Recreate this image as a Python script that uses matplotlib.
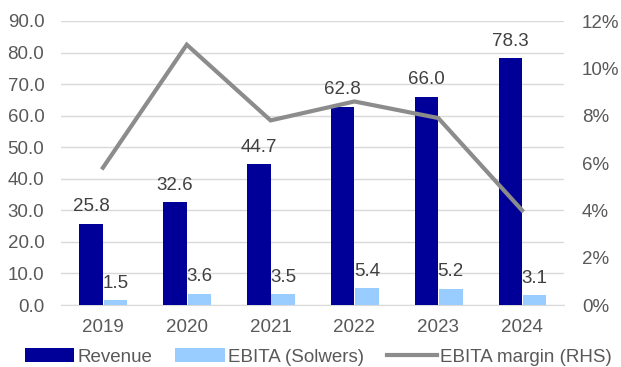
import numpy as np
import matplotlib
matplotlib.use("Agg")
import matplotlib.pyplot as plt
from matplotlib.ticker import FuncFormatter, MultipleLocator

plt.rcParams['font.family'] = ['Liberation Sans', 'DejaVu Sans']

years = ["2019", "2020", "2021", "2022", "2023", "2024"]
revenue = [25.8, 32.6, 44.7, 62.8, 66.0, 78.3]
ebita = [1.5, 3.6, 3.5, 5.4, 5.2, 3.1]
margin = [5.8, 11.0, 7.8, 8.6, 7.9, 4.0]  # % (RHS)

rev_color = "#000099"
ebita_color = "#99ccff"
line_color = "#8c8c8c"
tick_color = "#595959"
label_color = "#404040"

fig = plt.figure(figsize=(6.21, 3.67), dpi=100)
ax = fig.add_axes([61/621, 62/367, (564-61)/621, (305-21)/367])
ax2 = ax.twinx()

x = np.arange(len(years))
w = 0.28

b1 = ax.bar(x - w/2, revenue, w, color=rev_color, label="Revenue", zorder=3)
b2 = ax.bar(x + w/2 + 0.01, ebita, w, color=ebita_color, label="EBITA (Solwers)", zorder=3)

for xi, v in zip(x, revenue):
    ax.annotate(f"{v:.1f}", (xi - w/2, v), xytext=(0, 6), textcoords="offset points",
                ha="center", va="bottom", fontsize=13.5, color=label_color)
for xi, v in zip(x, ebita):
    ax.annotate(f"{v:.1f}", (xi + w/2 + 0.01, v), xytext=(0, 6), textcoords="offset points",
                ha="center", va="bottom", fontsize=13.5, color=label_color)

ln, = ax2.plot(x, margin, color=line_color, lw=3, label="EBITA margin (RHS)",
               solid_joinstyle="miter", zorder=4)

ax.set_xlim(-0.5, len(years) - 0.5)
ax.set_ylim(0, 90)
ax.yaxis.set_major_locator(MultipleLocator(10))
ax.yaxis.set_major_formatter(FuncFormatter(lambda v, p: f"{v:.1f}"))
ax2.set_ylim(0, 12)
ax2.yaxis.set_major_locator(MultipleLocator(2))
ax2.yaxis.set_major_formatter(FuncFormatter(lambda v, p: f"{v:.0f}%"))

ax.set_xticks(x)
ax.set_xticklabels(years)
ax.grid(axis="y", color="#d9d9d9", lw=1, zorder=0)
ax.set_axisbelow(True)

for a in (ax, ax2):
    for s in a.spines.values():
        s.set_visible(False)
    a.tick_params(length=0, labelsize=13.5, colors=tick_color)
ax.tick_params(axis="y", pad=12)
ax2.tick_params(axis="y", pad=13)
ax.tick_params(axis="x", pad=10)
ax.spines["bottom"].set_visible(True)
ax.spines["bottom"].set_color("#d9d9d9")

ax2.set_zorder(ax.get_zorder() + 1)
ax.patch.set_visible(False)

fig.legend(handles=[b1, b2, ln], loc="center", bbox_to_anchor=(318/621, 1 - 357/367),
           ncol=3, frameon=False, fontsize=13.5, handlelength=2.65, handleheight=0.7,
           handletextpad=0.15, columnspacing=1.25, labelcolor=tick_color,
           borderpad=0, borderaxespad=0)

fig.savefig("out.png", dpi=100)
